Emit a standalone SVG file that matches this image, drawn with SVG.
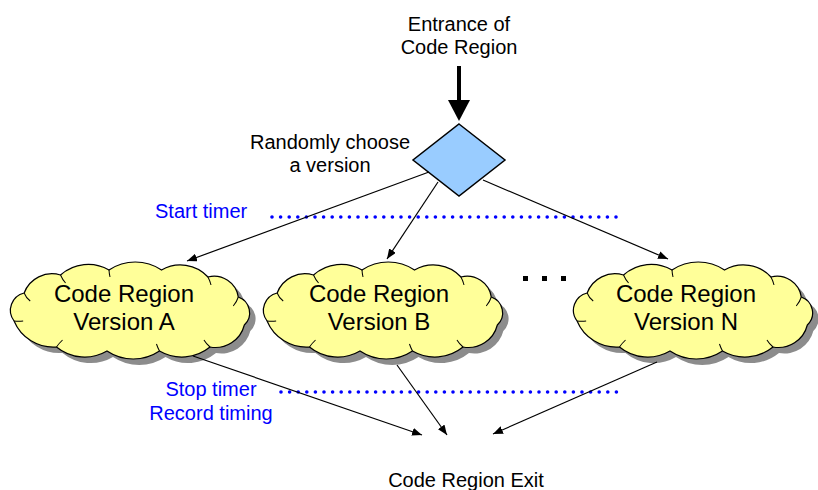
<svg xmlns="http://www.w3.org/2000/svg" width="818" height="490" viewBox="0 0 818 490">
<style>
.t{font-family:"Liberation Sans",Arial,sans-serif;font-size:20px;fill:#000}
.b{font-family:"Liberation Sans",Arial,sans-serif;font-size:20px;fill:#0000ff}
.c{font-family:"Liberation Sans",Arial,sans-serif;font-size:24px;fill:#000;text-anchor:middle}
.cloud{fill:#ffff99;stroke:#000;stroke-width:1.2}
.shadow{fill:#8c8c8c}
.inner{fill:none;stroke:#000;stroke-width:1}
.conn{stroke:#000;stroke-width:1.2;fill:none}
.dots{stroke:#0000ff;stroke-width:3.6;stroke-linecap:round;stroke-dasharray:0 8.6;fill:none}
</style>
<defs>
<path id="cloudShape" d="M6,58 A17.8,17.8 0 0 1 16,30 A29.3,29.3 0 0 1 52,12 A40.8,40.8 0 0 1 100,7 A46.3,46.3 0 0 1 152,7 A37,37 0 0 1 198,14 A24.3,24.3 0 0 1 228,34 A16.8,16.8 0 0 1 234,62 A29.6,29.6 0 0 1 200,84 A43.7,43.7 0 0 1 150,88 A46.3,46.3 0 0 1 98,88 A43.5,43.5 0 0 1 48,84 A42.1,42.1 0 0 1 6,58 Z"/>
<path id="cloudInner" d="M16,30 A18,18 0 0 0 22,38 M52,12 A29,29 0 0 0 57,20 M100,7 A40,40 0 0 0 101,14 M198,14 A37,37 0 0 1 201,22 M228,34 A24,24 0 0 1 223,43 M200,84 A29,29 0 0 1 194,77 M150,88 A43,43 0 0 1 147,81 M48,84 A43,43 0 0 1 54,77 M6,58 A42,42 0 0 0 15,58"/>
<marker id="ah" viewBox="0 0 10 8" refX="10" refY="4" markerWidth="10" markerHeight="8" markerUnits="userSpaceOnUse" orient="auto">
<path d="M0,0 L10,4 L0,8 Z" fill="#000"/>
</marker>
</defs>

<g id="entrance">
<text class="t" x="459" y="31" text-anchor="middle">Entrance of</text>
<text class="t" x="459" y="54" text-anchor="middle">Code Region</text>
<line x1="459" y1="66" x2="459" y2="101" stroke="#000" stroke-width="4"/>
<polygon points="448,100 470,100 459,121" fill="#000"/>
</g>

<g id="choose">
<polygon points="459,124 505,160 459,196 413,160" fill="#99ccff" stroke="#000" stroke-width="1.5"/>
<text class="t" x="330" y="149" text-anchor="middle">Randomly choose</text>
<text class="t" x="330" y="172" text-anchor="middle">a version</text>
</g>

<g id="cloudA">
<use href="#cloudShape" class="shadow" transform="translate(14,269) scale(1.01,1)"/>
<use href="#cloudShape" class="cloud" transform="translate(8,263) scale(1.01,1)"/>
<use href="#cloudInner" class="inner" transform="translate(8,263) scale(1.01,1)"/>
<text class="c" x="124" y="302">Code Region</text>
<text class="c" x="124" y="330">Version A</text>
</g>

<g id="cloudB">
<use href="#cloudShape" class="shadow" transform="translate(267,269) scale(1.01,1)"/>
<use href="#cloudShape" class="cloud" transform="translate(261,263) scale(1.01,1)"/>
<use href="#cloudInner" class="inner" transform="translate(261,263) scale(1.01,1)"/>
<text class="c" x="379" y="302">Code Region</text>
<text class="c" x="379" y="330">Version B</text>
</g>

<g id="ellipsis">
<rect x="523" y="276" width="5" height="5" fill="#000"/>
<rect x="542" y="276" width="5" height="5" fill="#000"/>
<rect x="561" y="276" width="5" height="5" fill="#000"/>
</g>

<g id="cloudN">
<use href="#cloudShape" class="shadow" transform="translate(577,269) scale(1.01,1)"/>
<use href="#cloudShape" class="cloud" transform="translate(571,263) scale(1.01,1)"/>
<use href="#cloudInner" class="inner" transform="translate(571,263) scale(1.01,1)"/>
<text class="c" x="686" y="302">Code Region</text>
<text class="c" x="686" y="330">Version N</text>
</g>

<g id="timers">
<text class="b" x="155" y="218">Start timer</text>
<line class="dots" x1="272" y1="217" x2="618" y2="217"/>
<text class="b" x="211" y="396" text-anchor="middle">Stop timer</text>
<text class="b" x="211" y="420" text-anchor="middle">Record timing</text>
<line class="dots" x1="281" y1="392" x2="618" y2="392"/>
</g>

<g id="exit">
<text class="t" x="466" y="487" text-anchor="middle">Code Region Exit</text>
</g>

<g id="connectors">
<line class="conn" x1="429" y1="172" x2="187" y2="261" marker-end="url(#ah)"/>
<line class="conn" x1="438" y1="182" x2="387" y2="259" marker-end="url(#ah)"/>
<line class="conn" x1="483" y1="180" x2="668" y2="259" marker-end="url(#ah)"/>
<line class="conn" x1="193" y1="356" x2="422" y2="435" marker-end="url(#ah)"/>
<line class="conn" x1="397" y1="365" x2="447" y2="435" marker-end="url(#ah)"/>
<line class="conn" x1="657" y1="362" x2="493" y2="434" marker-end="url(#ah)"/>
</g>
</svg>
